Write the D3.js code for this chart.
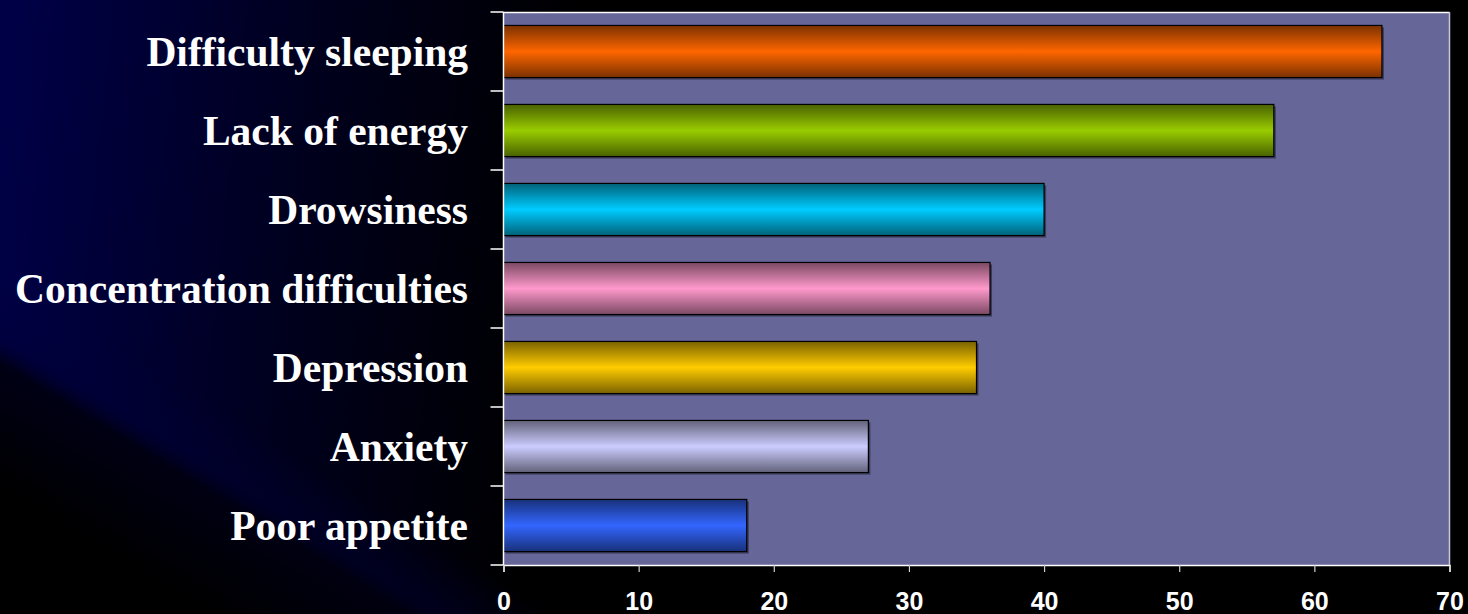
<!DOCTYPE html>
<html>
<head>
<meta charset="utf-8">
<script src="https://cdn.jsdelivr.net/npm/d3@7"></script>
<style>
  html, body { margin: 0; padding: 0; background: #000; }
  svg { display: block; }
</style>
</head>
<body>
<svg id="chart" width="1468" height="614"></svg>
<script>
const categories = ["Difficulty sleeping", "Lack of energy", "Drowsiness", "Concentration difficulties", "Depression", "Anxiety", "Poor appetite"];
const values = [65, 57, 40, 36, 35, 27, 18];
const barColors = ["#ff6600", "#99cc00", "#00ccff", "#ff99cc", "#ffcc00", "#ccccff", "#3366ff"];
const xTicks = [0, 10, 20, 30, 40, 50, 60, 70];

const W = 1468, H = 614;
const plot = { left: 503.5, right: 1449.5, top: 12, bottom: 565 };

const svg = d3.select("#chart");
const defs = svg.append("defs");

// background gradients
const bg = defs.append("linearGradient").attr("id", "bg")
  .attr("gradientUnits", "userSpaceOnUse")
  .attr("x1", 0).attr("y1", 200).attr("x2", 560).attr("y2", 260);
bg.append("stop").attr("offset", 0).attr("stop-color", "#000046");
bg.append("stop").attr("offset", 0.55).attr("stop-color", "#00001c");
bg.append("stop").attr("offset", 1).attr("stop-color", "#000000");

const diag = defs.append("linearGradient").attr("id", "diag")
  .attr("gradientUnits", "userSpaceOnUse")
  .attr("x1", 215).attr("y1", 405).attr("x2", 120).attr("y2", 560);
diag.append("stop").attr("offset", 0).attr("stop-color", "#000040").attr("stop-opacity", 0);
diag.append("stop").attr("offset", 0.3).attr("stop-color", "#000036").attr("stop-opacity", 0.4);
diag.append("stop").attr("offset", 0.42).attr("stop-color", "#000010").attr("stop-opacity", 0.9);
diag.append("stop").attr("offset", 1).attr("stop-color", "#000000").attr("stop-opacity", 1);

svg.append("rect").attr("width", W).attr("height", H).attr("fill", "url(#bg)");
svg.append("rect").attr("width", W).attr("height", H).attr("fill", "url(#diag)");

// bar gradients
barColors.forEach((c, i) => {
  const base = d3.color(c);
  const dark = d3.rgb(base.r * 0.48, base.g * 0.48, base.b * 0.48);
  const g = defs.append("linearGradient").attr("id", "bar" + i)
    .attr("x1", 0).attr("y1", 0).attr("x2", 0).attr("y2", 1);
  g.append("stop").attr("offset", 0).attr("stop-color", dark.formatHex());
  g.append("stop").attr("offset", 0.5).attr("stop-color", c);
  g.append("stop").attr("offset", 1).attr("stop-color", dark.formatHex());
});

// scales
const x = d3.scaleLinear().domain([0, 70]).range([plot.left, plot.right]);
const y = d3.scaleBand().domain(categories).range([plot.top, plot.bottom])
  .paddingInner(0.34).paddingOuter(0.17);
const yEdge = d3.scaleLinear().domain([0, categories.length]).range([plot.top, plot.bottom]);

// plot area
svg.append("rect")
  .attr("x", plot.left).attr("y", plot.top)
  .attr("width", plot.right - plot.left).attr("height", plot.bottom - plot.top)
  .attr("fill", "#666699");
svg.append("line").attr("x1", plot.left).attr("x2", plot.right).attr("y1", plot.top + 0.5).attr("y2", plot.top + 0.5)
  .attr("stroke", "#ffffff").attr("stroke-width", 1.5);
svg.append("line").attr("x1", plot.right).attr("x2", plot.right).attr("y1", plot.top).attr("y2", plot.bottom)
  .attr("stroke", "#c8c8d8").attr("stroke-width", 1.5);

// bars: shadow + bar
const bars = svg.append("g");
bars.selectAll("rect.shadow").data(values).join("rect")
  .attr("class", "shadow")
  .attr("x", x(0) + 2)
  .attr("y", (d, i) => y(categories[i]) + 2)
  .attr("width", d => x(d) - x(0))
  .attr("height", y.bandwidth())
  .attr("fill", "#2e2e4a").attr("opacity", 0.75);
bars.selectAll("rect.bar").data(values).join("rect")
  .attr("class", "bar")
  .attr("x", x(0))
  .attr("y", (d, i) => y(categories[i]))
  .attr("width", d => x(d) - x(0))
  .attr("height", y.bandwidth())
  .attr("fill", (d, i) => `url(#bar${i})`)
  .attr("stroke", "#000").attr("stroke-width", 1.2);

// y axis line and ticks at band edges
const yAxisG = svg.append("g");
yAxisG.append("line").attr("x1", plot.left).attr("x2", plot.left).attr("y1", plot.top).attr("y2", plot.bottom)
  .attr("stroke", "#ffffff").attr("stroke-width", 1.5);
yAxisG.selectAll("line.tick").data(d3.range(categories.length + 1)).join("line")
  .attr("class", "tick")
  .attr("x1", plot.left - 13).attr("x2", plot.left)
  .attr("y1", d => yEdge(d)).attr("y2", d => yEdge(d))
  .attr("stroke", "#ffffff").attr("stroke-width", 1.5);

// category labels
svg.append("g").selectAll("text").data(categories).join("text")
  .attr("x", 468)
  .attr("y", d => y(d) + y.bandwidth() / 2 + 14.5)
  .attr("text-anchor", "end")
  .attr("fill", "#ffffff")
  .style("font-family", "'Liberation Serif', 'DejaVu Serif', serif")
  .style("font-weight", "bold")
  .style("font-size", "41.5px")
  .text(d => d);

// x axis
const xAxis = d3.axisBottom(x).tickValues(xTicks).tickSize(7).tickPadding(20).tickFormat(d3.format("d"));
const xg = svg.append("g").attr("transform", `translate(0,${plot.bottom})`).call(xAxis);
xg.select(".domain").attr("stroke", "#ffffff").attr("stroke-width", 1.5);
xg.selectAll(".tick line").attr("stroke", "#d0d0d0").attr("stroke-width", 1.2);
xg.selectAll(".tick text")
  .attr("fill", "#ffffff")
  .style("font-family", "'Liberation Sans', Arial, sans-serif")
  .style("font-weight", "bold")
  .style("font-size", "25px");
</script>
</body>
</html>
